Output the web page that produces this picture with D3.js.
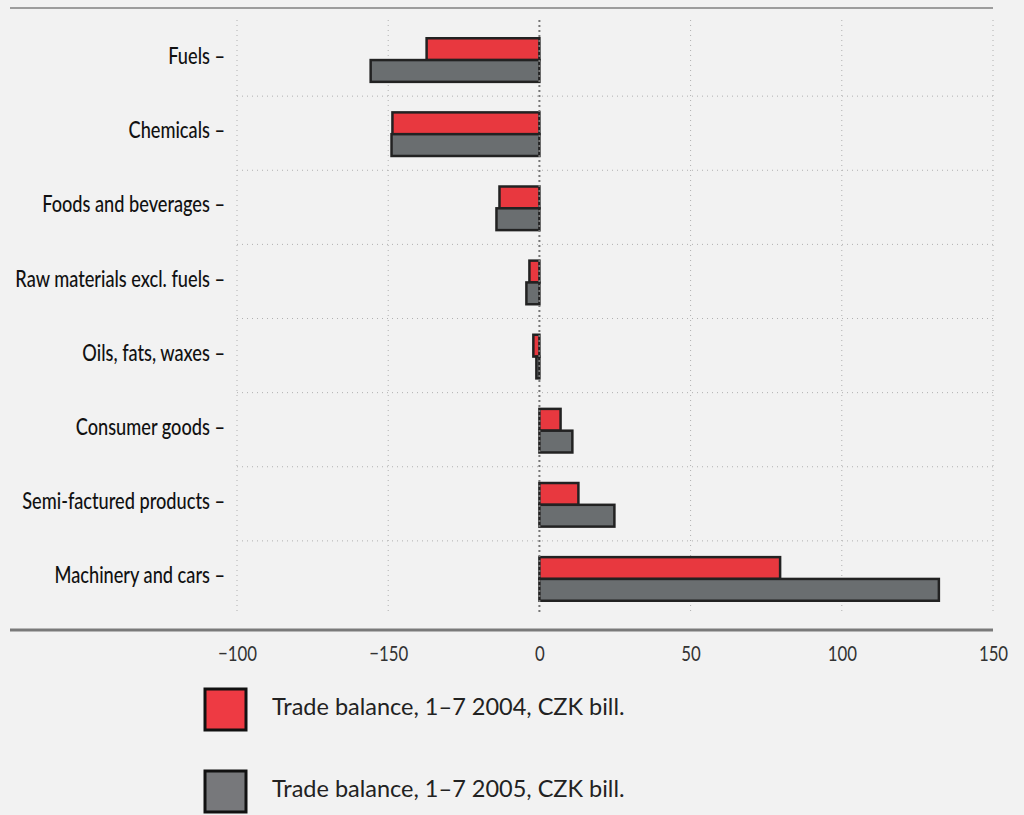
<!DOCTYPE html>
<html>
<head>
<meta charset="utf-8">
<script src="https://cdn.jsdelivr.net/npm/d3@7"></script>
<style>
    body { margin: 0; background: #f2f2f2; }
    svg { display: block; }
</style>
</head>
<body>
<div id="chart"></div>
<script>
var categories = ["Fuels", "Chemicals", "Foods and beverages", "Raw materials excl. fuels",
    "Oils, fats, waxes", "Consumer goods", "Semi-factured products", "Machinery and cars"];
var balance2004 = [-37.3, -48.6, -13.2, -3.3, -2.0, 7.0, 12.9, 79.6];
var balance2005 = [-55.8, -48.9, -14.2, -4.3, -1.0, 10.9, 24.8, 132.1];
var tickValues = [-100, -50, 0, 50, 100, 150];
var tickLabels = ["\u2212100", "\u2212150", "0", "50", "100", "150"];
var seriesNames = ["Trade balance, 1\u20137 2004, CZK bill.", "Trade balance, 1\u20137 2005, CZK bill."];
var colors = ["#e8383f", "#6a6e70"];
var legendColors = ["#ee3a43", "#77787b"];

var width = 1024, height = 815;
var labelFont = "Lato, 'Noto Sans', sans-serif";

var svg = d3.select("#chart").append("svg")
    .attr("width", width)
    .attr("height", height);

svg.append("rect").attr("width", width).attr("height", height).attr("fill", "#f2f2f2");

var x = d3.scaleLinear().domain([-100, 150]).range([237, 993]);
var y = d3.scaleBand().domain(categories).range([22, 615]);
var sub = d3.scaleBand().domain([0, 1]).range([0, y.bandwidth()]).paddingOuter(0.7);

// top rule
svg.append("line")
    .attr("x1", 10).attr("x2", 993).attr("y1", 8).attr("y2", 8)
    .attr("stroke", "#808080").attr("stroke-width", 1.5);

// horizontal grid between categories
svg.selectAll(".hgrid")
    .data(categories.slice(1))
    .enter().append("line")
    .attr("class", "hgrid")
    .attr("x1", 237).attr("x2", 993)
    .attr("y1", (d) => y(d)).attr("y2", (d) => y(d))
    .attr("stroke", "#b0b0b0").attr("stroke-width", 1)
    .attr("stroke-dasharray", "1,4");

// vertical grid
svg.selectAll(".vgrid")
    .data(tickValues.filter((d) => d != 0))
    .enter().append("line")
    .attr("class", "vgrid")
    .attr("x1", (d) => x(d)).attr("x2", (d) => x(d))
    .attr("y1", 20).attr("y2", 613)
    .attr("stroke", "#b0b0b0").attr("stroke-width", 1)
    .attr("stroke-dasharray", "1,4");

// bars
var series = [balance2004, balance2005];
series.forEach(function (vals, s) {
    svg.selectAll(".bar" + s)
        .data(vals)
        .enter().append("rect")
        .attr("class", "bar" + s)
        .attr("x", (d) => x(Math.min(0, d)))
        .attr("y", (d, i) => y(categories[i]) + sub(s) + 1)
        .attr("width", (d) => Math.abs(x(d) - x(0)))
        .attr("height", sub.bandwidth())
        .attr("fill", colors[s])
        .attr("stroke", "#222")
        .attr("stroke-width", 2.5);
});

// zero line
svg.append("line")
    .attr("x1", x(0)).attr("x2", x(0))
    .attr("y1", 20).attr("y2", 613)
    .attr("stroke", "#777").attr("stroke-width", 2)
    .attr("stroke-dasharray", "2,3");

// category labels (condensed look)
svg.selectAll(".cat")
    .data(categories)
    .enter().append("text")
    .attr("class", "cat")
    .attr("transform", (d) => "translate(225, " + (y(d) + y.bandwidth() / 2 - 3) + ") scale(0.79, 1)")
    .attr("dy", "0.35em")
    .attr("text-anchor", "end")
    .style("font-family", labelFont)
    .style("font-size", "23px")
    .style("font-weight", "500")
    .style("fill", "#111")
    .text((d) => d + " \u2013");

// bottom axis
svg.append("line")
    .attr("x1", 10).attr("x2", 993).attr("y1", 630).attr("y2", 630)
    .attr("stroke", "#7a7a7a").attr("stroke-width", 3);

var x_axis = d3.axisBottom(x)
    .tickValues(tickValues)
    .tickSize(0)
    .tickPadding(14)
    .tickFormat((d, i) => tickLabels[i]);

var gx = svg.append("g")
    .attr("transform", "translate(0, 632)")
    .call(x_axis);
gx.select(".domain").remove();
gx.selectAll(".tick text")
    .attr("transform", "scale(0.8, 1)")
    .style("font-family", labelFont)
    .style("font-size", "21px")
    .style("fill", "#333");

// legend
var legend = svg.selectAll(".legend")
    .data(seriesNames)
    .enter().append("g")
    .attr("class", "legend")
    .attr("transform", (d, i) => "translate(205, " + (689 + i * 82) + ")");

legend.append("rect")
    .attr("width", 41).attr("height", 41)
    .attr("fill", (d, i) => legendColors[i])
    .attr("stroke", "#111").attr("stroke-width", 3);

legend.append("text")
    .attr("x", 67).attr("y", 18)
    .attr("dy", "0.35em")
    .style("font-family", "Lato, sans-serif")
    .style("font-size", "23.5px")
    .style("fill", "#222")
    .text((d) => d);
</script>
</body>
</html>
